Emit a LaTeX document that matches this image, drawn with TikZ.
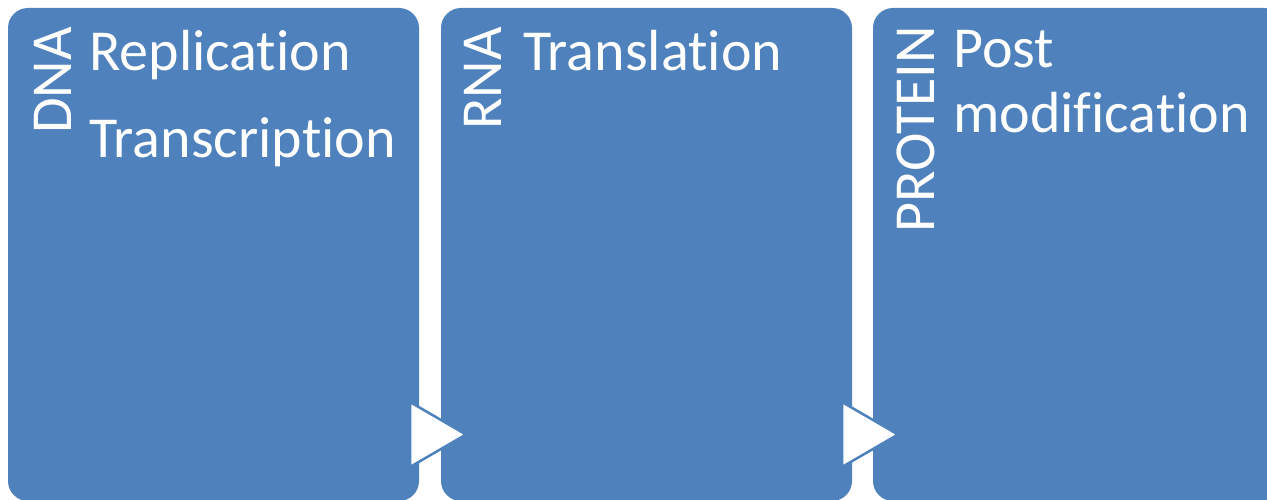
\documentclass[tikz,border=0pt]{standalone}
\usepackage{fontspec}
\setmainfont{Carlito}[Ligatures=NoCommon, RawFeature={-liga;-clig;-dlig;-calt}]
\definecolor{stageblue}{HTML}{4F81BD}
\begin{document}
\begin{tikzpicture}[x=1pt,y=-1pt,
  stagebox/.style={fill=stageblue, draw=none, rounded corners=20pt},
  item/.style={anchor=base west, inner sep=0pt, text=white, font=\fontsize{58}{64}\selectfont},
  stagelabel/.style={anchor=base east, rotate=90, inner sep=0pt, text=white, font=\fontsize{58}{64}\selectfont},
  flowarrow/.style={fill=white, draw=stageblue, line width=2.5pt, line join=miter}]
\useasboundingbox (0,0) rectangle (1267,500);
\clip (0,0) rectangle (1267,500);
% three stage panels
\path[stagebox] (8,8) rectangle (419,501);
\path[stagebox] (441,8) rectangle (852,501);
\path[stagebox] (873,8) rectangle (1284,501);
% vertical stage titles
\node[stagelabel] (dna) at (71,27) {DNA};
\node[stagelabel] (rna) at (501,27) {RNA};
\node[stagelabel] (protein) at (934,26) {PROTEIN};
% process lists
\node[item] (rep) at (89,71) {Replication};
\node[item] (trc) at (89,158) {Transcription};
\node[item] (trl) at (523,71) {Translation};
\node[item] (post) at (953,68) {Post};
\node[item] (mod) at (953,133) {modification};
% flow arrows between panels
\coordinate (a1) at (410,402);
\coordinate (a2) at (410,467);
\coordinate (a3) at (466,434.5);
\path[flowarrow] (a1) -- (a3) -- (a2) -- cycle;
\coordinate (b1) at (842,402);
\coordinate (b2) at (842,467);
\coordinate (b3) at (898,434.5);
\path[flowarrow] (b1) -- (b3) -- (b2) -- cycle;
\end{tikzpicture}
\end{document}
